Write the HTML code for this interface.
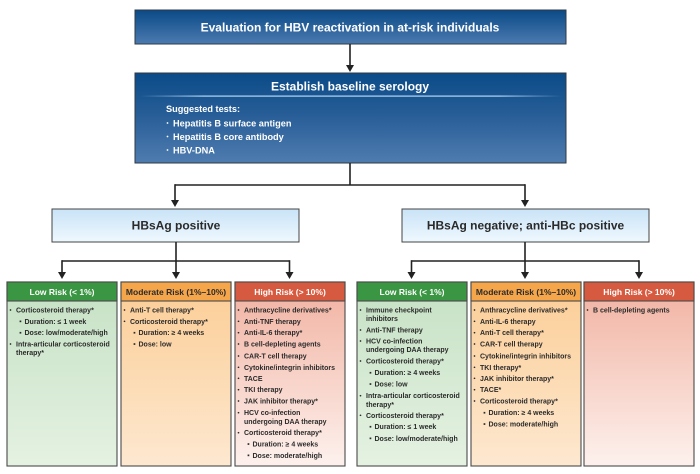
<!DOCTYPE html>
<html><head><meta charset="utf-8"><style>
html,body{margin:0;padding:0;background:#fff;}
svg{display:block;}
text{font-family:"Liberation Sans",Arial,sans-serif;font-weight:bold;}
.b{font-size:7px;fill:#2b2b2b;}
.h{font-size:8.5px;fill:#fff;text-anchor:middle;}
</style></head><body>
<svg width="700" height="474" viewBox="0 0 700 474" xmlns="http://www.w3.org/2000/svg">
<defs>
<linearGradient id="blue" x1="0" y1="0" x2="0" y2="1"><stop offset="0" stop-color="#0a4a87"/><stop offset="1" stop-color="#4c7aaf"/></linearGradient>
<linearGradient id="blue2" x1="0" y1="0" x2="0" y2="1"><stop offset="0" stop-color="#0a4b88"/><stop offset="0.5" stop-color="#2a5f98"/><stop offset="1" stop-color="#4f7cb0"/></linearGradient>
<linearGradient id="lb" x1="0" y1="0" x2="0" y2="1"><stop offset="0" stop-color="#c9e3f7"/><stop offset="1" stop-color="#eff8fe"/></linearGradient>
<linearGradient id="sep" x1="0" y1="0" x2="1" y2="0"><stop offset="0" stop-color="#a8cdf0" stop-opacity="0"/><stop offset="0.15" stop-color="#b5d6f3"/><stop offset="0.85" stop-color="#b5d6f3"/><stop offset="1" stop-color="#a8cdf0" stop-opacity="0"/></linearGradient>
<linearGradient id="gL" x1="0" y1="0" x2="0" y2="1"><stop offset="0" stop-color="#c5e1c4"/><stop offset="1" stop-color="#e5f2e2"/></linearGradient>
<linearGradient id="gM" x1="0" y1="0" x2="0" y2="1"><stop offset="0" stop-color="#fccd95"/><stop offset="1" stop-color="#fde8d0"/></linearGradient>
<linearGradient id="gH" x1="0" y1="0" x2="0" y2="1"><stop offset="0" stop-color="#f1b1a0"/><stop offset="1" stop-color="#fdf1ed"/></linearGradient>
</defs>

<!-- Top box -->
<rect x="135" y="10" width="431" height="34" fill="url(#blue)" stroke="#2f3a45" stroke-width="1"/>
<text x="350" y="31.5" text-anchor="middle" font-size="12" fill="#fff">Evaluation for HBV reactivation in at-risk individuals</text>

<!-- arrow -->
<line x1="350" y1="44" x2="350" y2="66" stroke="#222" stroke-width="1.6"/>
<polygon points="346,65 354,65 350,72" fill="#222"/>

<!-- Second box -->
<rect x="135" y="73" width="431" height="90" fill="url(#blue2)" stroke="#2f3a45" stroke-width="1"/>
<text x="350" y="90.5" text-anchor="middle" font-size="12" fill="#fff">Establish baseline serology</text>
<rect x="140" y="95.5" width="422" height="1.2" fill="url(#sep)"/>
<text x="166" y="112" font-size="9.2" fill="#fff">Suggested tests:</text>
<circle cx="167.5" cy="123" r="0.9" fill="#fff"/>
<text x="173" y="126.3" font-size="9.2" fill="#fff">Hepatitis B surface antigen</text>
<circle cx="167.5" cy="136.5" r="0.9" fill="#fff"/>
<text x="173" y="139.8" font-size="9.2" fill="#fff">Hepatitis B core antibody</text>
<circle cx="167.5" cy="150" r="0.9" fill="#fff"/>
<text x="173" y="153.3" font-size="9.2" fill="#fff">HBV-DNA</text>

<!-- connectors to HBsAg boxes -->
<g stroke="#222" stroke-width="1.6" fill="none">
<line x1="350" y1="163" x2="350" y2="185"/>
<line x1="175" y1="185" x2="525" y2="185"/>
<line x1="175" y1="184.2" x2="175" y2="201"/>
<line x1="525" y1="184.2" x2="525" y2="201"/>
</g>
<polygon points="171,200 179,200 175,207" fill="#222"/>
<polygon points="521,200 529,200 525,207" fill="#222"/>

<!-- HBsAg boxes -->
<rect x="52" y="209" width="247" height="33" fill="url(#lb)" stroke="#444" stroke-width="1"/>
<text x="176" y="229.5" text-anchor="middle" font-size="12" fill="#2a2a2a">HBsAg positive</text>
<rect x="402" y="209" width="247" height="33" fill="url(#lb)" stroke="#444" stroke-width="1"/>
<text x="525.5" y="229.5" text-anchor="middle" font-size="12" fill="#2a2a2a">HBsAg negative; anti-HBc positive</text>

<!-- lower connectors -->
<g stroke="#222" stroke-width="1.6" fill="none">
<line x1="176" y1="242" x2="176" y2="261"/>
<line x1="62" y1="261" x2="289.5" y2="261"/>
<line x1="62" y1="260.2" x2="62" y2="273"/>
<line x1="176" y1="261" x2="176" y2="273"/>
<line x1="289.5" y1="260.2" x2="289.5" y2="273"/>
<line x1="525" y1="242" x2="525" y2="261"/>
<line x1="411.5" y1="261" x2="639" y2="261"/>
<line x1="411.5" y1="260.2" x2="411.5" y2="273"/>
<line x1="525" y1="261" x2="525" y2="273"/>
<line x1="639" y1="260.2" x2="639" y2="273"/>
</g>
<g fill="#222">
<polygon points="58,272 66,272 62,279"/>
<polygon points="172,272 180,272 176,279"/>
<polygon points="285.5,272 293.5,272 289.5,279"/>
<polygon points="407.5,272 415.5,272 411.5,279"/>
<polygon points="521,272 529,272 525,279"/>
<polygon points="635,272 643,272 639,279"/>
</g>

<!-- Risk boxes: left group -->
<g stroke="#4a4a4a" stroke-width="1.1">
<rect x="7" y="282" width="110" height="184" fill="url(#gL)"/>
<rect x="7" y="282" width="110" height="19" fill="#3b9643"/>
<rect x="121" y="282" width="110" height="184" fill="url(#gM)"/>
<rect x="121" y="282" width="110" height="19" fill="#f5a64b"/>
<rect x="235" y="282" width="110" height="184" fill="url(#gH)"/>
<rect x="235" y="282" width="110" height="19" fill="#d65a3f"/>
<rect x="357" y="282" width="110" height="184" fill="url(#gL)"/>
<rect x="357" y="282" width="110" height="19" fill="#3b9643"/>
<rect x="471" y="282" width="110" height="184" fill="url(#gM)"/>
<rect x="471" y="282" width="110" height="19" fill="#f5a64b"/>
<rect x="584" y="282" width="110" height="184" fill="url(#gH)"/>
<rect x="584" y="282" width="110" height="19" fill="#d65a3f"/>
</g>
<text class="h" x="62" y="295">Low Risk (&lt; 1%)</text>
<text class="h" x="176" y="295" style="fill:#2a2a2a">Moderate Risk (1%–10%)</text>
<text class="h" x="290" y="295">High Risk (&gt; 10%)</text>
<text class="h" x="412" y="295">Low Risk (&lt; 1%)</text>
<text class="h" x="526" y="295" style="fill:#2a2a2a">Moderate Risk (1%–10%)</text>
<text class="h" x="639" y="295">High Risk (&gt; 10%)</text>

<!-- Left Low -->
<g fill="#2b2b2b">
<circle cx="10.5" cy="310" r="0.85"/>
<rect x="19.6" y="320.5" width="1.7" height="1.7"/>
<rect x="19.6" y="331.9" width="1.7" height="1.7"/>
<circle cx="10.5" cy="344" r="0.85"/>
</g>
<text class="b" x="16" y="312.5">Corticosteroid therapy*</text>
<text class="b" x="24.5" y="323.8">Duration: ≤ 1 week</text>
<text class="b" x="24.5" y="335.2">Dose: low/moderate/high</text>
<text class="b" x="16" y="346.5">Intra-articular corticosteroid</text>
<text class="b" x="16" y="355.2">therapy*</text>

<!-- Left Moderate -->
<g fill="#2b2b2b">
<circle cx="124.5" cy="310" r="0.85"/>
<circle cx="124.5" cy="321.3" r="0.85"/>
<rect x="133.6" y="331.9" width="1.7" height="1.7"/>
<rect x="133.6" y="343.2" width="1.7" height="1.7"/>
</g>
<text class="b" x="130" y="312.5">Anti-T cell therapy*</text>
<text class="b" x="130" y="323.8">Corticosteroid therapy*</text>
<text class="b" x="138.5" y="335.2">Duration: ≥ 4 weeks</text>
<text class="b" x="138.5" y="346.5">Dose: low</text>

<!-- Left High -->
<g fill="#2b2b2b">
<circle cx="238.5" cy="310" r="0.85"/>
<circle cx="238.5" cy="321.3" r="0.85"/>
<circle cx="238.5" cy="332.7" r="0.85"/>
<circle cx="238.5" cy="344" r="0.85"/>
<circle cx="238.5" cy="356" r="0.85"/>
<circle cx="238.5" cy="367.3" r="0.85"/>
<circle cx="238.5" cy="378.3" r="0.85"/>
<circle cx="238.5" cy="389.7" r="0.85"/>
<circle cx="238.5" cy="401" r="0.85"/>
<circle cx="238.5" cy="412.7" r="0.85"/>
<circle cx="238.5" cy="432.7" r="0.85"/>
<rect x="247.6" y="443.2" width="1.7" height="1.7"/>
<rect x="247.6" y="454.5" width="1.7" height="1.7"/>
</g>
<text class="b" x="244" y="312.5">Anthracycline derivatives*</text>
<text class="b" x="244" y="323.8">Anti-TNF therapy</text>
<text class="b" x="244" y="335.2">Anti-IL-6 therapy*</text>
<text class="b" x="244" y="346.5">B cell-depleting agents</text>
<text class="b" x="244" y="358.5">CAR-T cell therapy</text>
<text class="b" x="244" y="369.8">Cytokine/integrin inhibitors</text>
<text class="b" x="244" y="380.8">TACE</text>
<text class="b" x="244" y="392.2">TKI therapy</text>
<text class="b" x="244" y="403.5">JAK inhibitor therapy*</text>
<text class="b" x="244" y="415.2">HCV co-infection</text>
<text class="b" x="244" y="423.8">undergoing DAA therapy</text>
<text class="b" x="244" y="435.2">Corticosteroid therapy*</text>
<text class="b" x="252.5" y="446.5">Duration: ≥ 4 weeks</text>
<text class="b" x="252.5" y="457.8">Dose: moderate/high</text>

<!-- Right Low -->
<g fill="#2b2b2b">
<circle cx="360.5" cy="310" r="0.85"/>
<circle cx="360.5" cy="330" r="0.85"/>
<circle cx="360.5" cy="341" r="0.85"/>
<circle cx="360.5" cy="361" r="0.85"/>
<rect x="369.6" y="371.9" width="1.7" height="1.7"/>
<rect x="369.6" y="383.2" width="1.7" height="1.7"/>
<circle cx="360.5" cy="395.7" r="0.85"/>
<circle cx="360.5" cy="415.3" r="0.85"/>
<rect x="369.6" y="425.9" width="1.7" height="1.7"/>
<rect x="369.6" y="437.5" width="1.7" height="1.7"/>
</g>
<text class="b" x="366" y="312.5">Immune checkpoint</text>
<text class="b" x="366" y="320.8">inhibitors</text>
<text class="b" x="366" y="332.5">Anti-TNF therapy</text>
<text class="b" x="366" y="343.5">HCV co-infection</text>
<text class="b" x="366" y="352.2">undergoing DAA therapy</text>
<text class="b" x="366" y="363.5">Corticosteroid therapy*</text>
<text class="b" x="374.5" y="375.2">Duration: ≥ 4 weeks</text>
<text class="b" x="374.5" y="386.5">Dose: low</text>
<text class="b" x="366" y="398.2">Intra-articular corticosteroid</text>
<text class="b" x="366" y="406.8">therapy*</text>
<text class="b" x="366" y="417.8">Corticosteroid therapy*</text>
<text class="b" x="374.5" y="429.2">Duration: ≤ 1 week</text>
<text class="b" x="374.5" y="440.8">Dose: low/moderate/high</text>

<!-- Right Moderate -->
<g fill="#2b2b2b">
<circle cx="474.5" cy="310" r="0.85"/>
<circle cx="474.5" cy="321.3" r="0.85"/>
<circle cx="474.5" cy="332.7" r="0.85"/>
<circle cx="474.5" cy="344" r="0.85"/>
<circle cx="474.5" cy="356" r="0.85"/>
<circle cx="474.5" cy="367.3" r="0.85"/>
<circle cx="474.5" cy="378.3" r="0.85"/>
<circle cx="474.5" cy="389.7" r="0.85"/>
<circle cx="474.5" cy="401" r="0.85"/>
<rect x="483.6" y="411.9" width="1.7" height="1.7"/>
<rect x="483.6" y="423.2" width="1.7" height="1.7"/>
</g>
<text class="b" x="480" y="312.5">Anthracycline derivatives*</text>
<text class="b" x="480" y="323.8">Anti-IL-6 therapy</text>
<text class="b" x="480" y="335.2">Anti-T cell therapy*</text>
<text class="b" x="480" y="346.5">CAR-T cell therapy</text>
<text class="b" x="480" y="358.5">Cytokine/integrin inhibitors</text>
<text class="b" x="480" y="369.8">TKI therapy*</text>
<text class="b" x="480" y="380.8">JAK inhibitor therapy*</text>
<text class="b" x="480" y="392.2">TACE*</text>
<text class="b" x="480" y="403.5">Corticosteroid therapy*</text>
<text class="b" x="488.5" y="415.2">Duration: ≥ 4 weeks</text>
<text class="b" x="488.5" y="426.5">Dose: moderate/high</text>

<!-- Right High -->
<circle cx="587.5" cy="310" r="0.85" fill="#2b2b2b"/>
<text class="b" x="593" y="312.5">B cell-depleting agents</text>
</svg>
</body></html>
